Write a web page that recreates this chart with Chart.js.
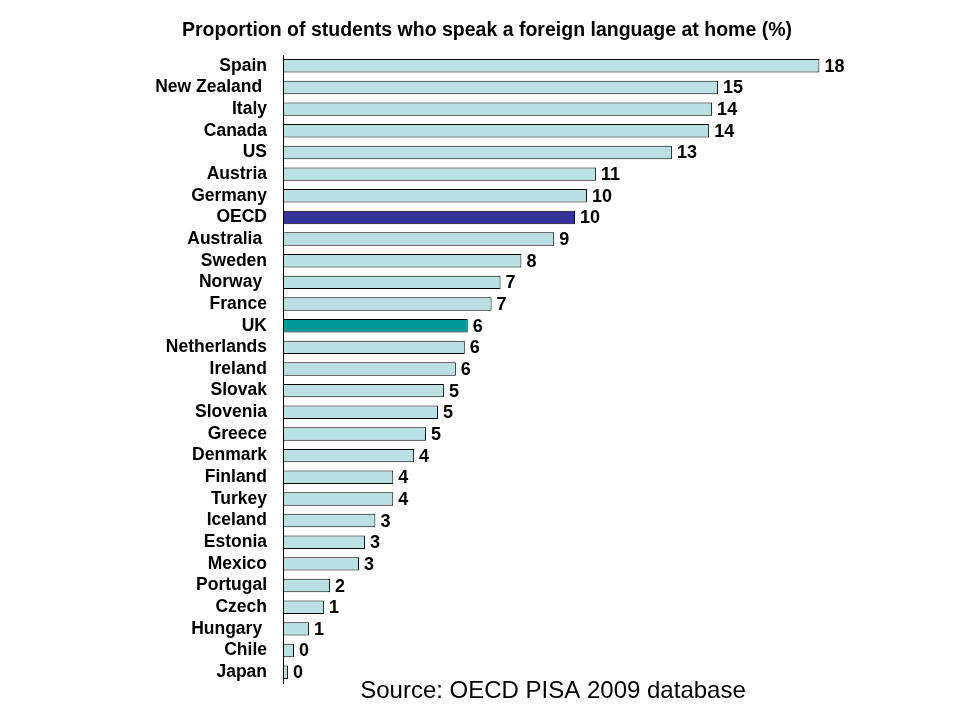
<!DOCTYPE html>
<html>
<head>
<meta charset="utf-8">
<script src="https://cdn.jsdelivr.net/npm/chart.js@4/dist/chart.umd.min.js"></script>
<style>
  html, body { margin: 0; padding: 0; background: #ffffff; }
  #wrap { width: 960px; height: 720px; }
</style>
</head>
<body>
<div id="wrap"><canvas id="myChart" width="960" height="720"></canvas></div>
<script>
const countries = ['Spain', 'New Zealand ', 'Italy', 'Canada', 'US', 'Austria', 'Germany', 'OECD', 'Australia ',
    'Sweden', 'Norway ', 'France', 'UK', 'Netherlands', 'Ireland', 'Slovak', 'Slovenia', 'Greece', 'Denmark',
    'Finland', 'Turkey', 'Iceland', 'Estonia', 'Mexico', 'Portugal', 'Czech', 'Hungary ', 'Chile', 'Japan'];

// bar lengths
const shares = [18.0, 14.6, 14.4, 14.3, 13.05, 10.5, 10.2, 9.8, 9.1,
    8.0, 7.3, 7.0, 6.2, 6.1, 5.8, 5.4, 5.2, 4.8, 4.4,
    3.7, 3.7, 3.1, 2.75, 2.55, 1.58, 1.38, 0.87, 0.37, 0.17];

// numbers printed at the end of each bar
const shareLabels = ['18', '15', '14', '14', '13', '11', '10', '10', '9',
    '8', '7', '7', '6', '6', '6', '5', '5', '5', '4',
    '4', '4', '3', '3', '3', '2', '1', '1', '0', '0'];

const titleText = 'Proportion of students who speak a foreign language at home (%)';
const sourceText = 'Source: OECD PISA 2009 database';

const barColor = '#BBE0E3';
const highlight = {'OECD': '#333399', 'UK': '#009999'};
const fills = countries.map(c => highlight[c.trim()] || barColor);

const font = '"Liberation Sans", Arial, sans-serif';

const textPlugin = {
    id: 'textPlugin',
    afterDraw(chart) {
        const {ctx, chartArea} = chart;
        const meta = chart.getDatasetMeta(0);
        ctx.save();
        // value labels
        ctx.fillStyle = '#000000';
        ctx.font = 'bold 18px ' + font;
        ctx.textAlign = 'left';
        ctx.textBaseline = 'middle';
        meta.data.forEach((bar, i) => {
            ctx.fillText(shareLabels[i], bar.x + 5, bar.y + 1);
        });
        // title
        ctx.font = 'bold 19.5px ' + font;
        ctx.textAlign = 'center';
        ctx.fillText(titleText, 487, chartArea.top - 24);
        // source
        ctx.font = '24px ' + font;
        ctx.fillText(sourceText, 553, chartArea.bottom + 8);
        ctx.restore();
    }
};

const ctx = document.getElementById('myChart').getContext('2d');
const myChart = new Chart(ctx, {
    type: 'bar',
    data: {
        labels: countries,
        datasets: [{
            data: shares,
            backgroundColor: fills,
            borderColor: '#000000',
            borderWidth: 1,
            borderSkipped: false,
            barPercentage: 0.62,
            categoryPercentage: 1.0
        }]
    },
    options: {
        indexAxis: 'y',
        responsive: false,
        animation: false,
        layout: {
            padding: {top: 55, bottom: 37, right: 81, left: 0}
        },
        plugins: {
            legend: {display: false},
            tooltip: {enabled: false},
            title: {display: false}
        },
        scales: {
            x: {
                display: false,
                min: 0,
                max: 20
            },
            y: {
                z: 1,
                afterFit: (scale) => { scale.width = 283; },
                grid: {display: false},
                border: {display: true, color: '#000000', width: 1},
                ticks: {
                    color: '#000000',
                    padding: 8,
                    autoSkip: false,
                    font: {size: 17.5, weight: 'bold', family: font}
                }
            }
        }
    },
    plugins: [textPlugin]
});
</script>
</body>
</html>
